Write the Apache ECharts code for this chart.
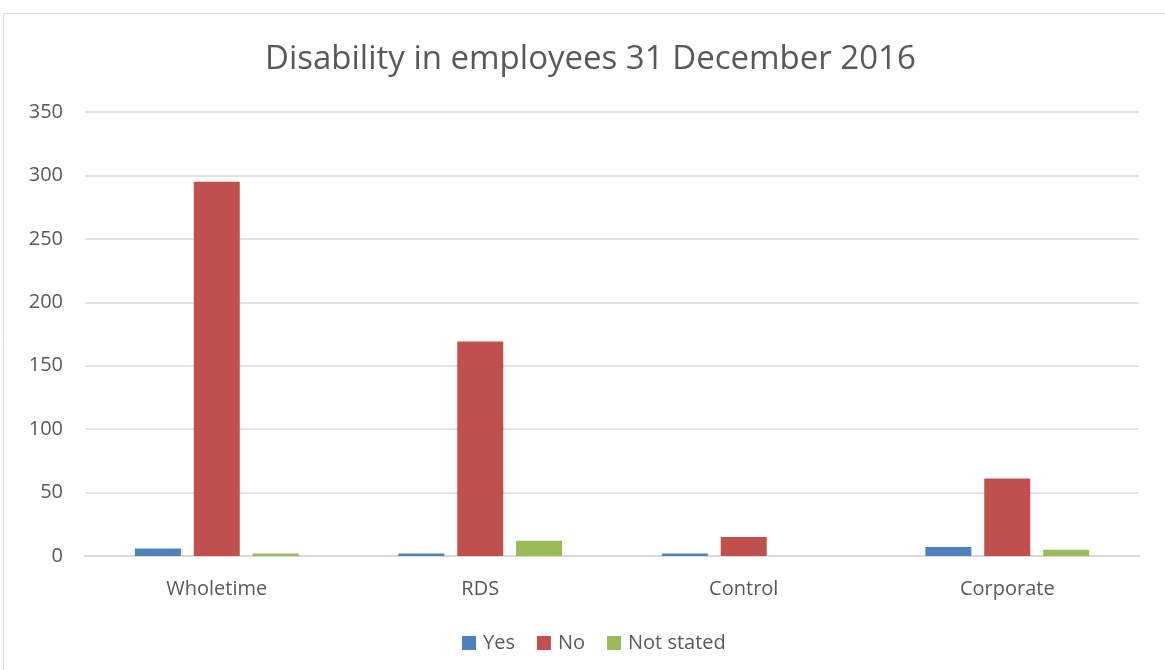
<!doctype html>
<html>
<head>
<meta charset="utf-8">
<title>Disability in employees</title>
<script src="https://cdn.jsdelivr.net/npm/echarts@6/dist/echarts.min.js"></script>
<style>
  html, body { margin: 0; padding: 0; background: #fff; }
</style>
</head>
<body>
<div id="JS_chart" style="width:1165px;height:670px;"></div>
<script type="text/javascript">
var categories = ['Wholetime', 'RDS', 'Control', 'Corporate'];
var yesData = [6, 2, 2, 7];
var noData = [295, 169, 15, 61];
var notStatedData = [2, 12, 0, 5];
var yTicks = [0, 50, 100, 150, 200, 250, 300, 350];

var textColor = '#595959';
var fontName = '"Open Sans", "Noto Sans", sans-serif';

var myChart = echarts.init(document.getElementById('JS_chart'));
var option = {
    animation: false,
    graphic: [{
        type: 'rect',
        shape: { x: 3.5, y: 13.5, width: 1180, height: 680 },
        style: { fill: 'none', stroke: '#d9d9d9', lineWidth: 1 }
    }],
    title: {
        text: 'Disability in employees 31 December 2016',
        left: 260,
        top: 38,
        textStyle: { fontFamily: fontName, fontSize: 33, fontWeight: 'normal', color: textColor }
    },
    legend: {
        bottom: 12,
        left: 457,
        icon: 'rect',
        itemWidth: 14,
        itemHeight: 14,
        itemGap: 22,
        textStyle: { fontFamily: fontName, fontSize: 20, color: textColor, padding: [0, 0, 0, 2] },
        data: ['Yes', 'No', 'Not stated']
    },
    grid: { left: 85, right: 26, top: 112, bottom: 114 },
    xAxis: {
        type: 'category',
        data: categories,
        axisTick: { show: false },
        axisLine: { lineStyle: { color: '#d9d9d9', width: 2 } },
        axisLabel: { fontFamily: fontName, fontSize: 20, color: textColor, margin: 23 }
    },
    yAxis: {
        type: 'value',
        min: yTicks[0],
        max: yTicks[yTicks.length - 1],
        interval: 50,
        axisLine: { show: false },
        axisTick: { show: false },
        axisLabel: { fontFamily: fontName, fontSize: 20, color: textColor, margin: 22 },
        splitLine: { lineStyle: { color: '#d9d9d9', width: 1.5 } }
    },
    series: [
        { name: 'Yes', type: 'bar', barWidth: 46, barGap: '28%', data: yesData, itemStyle: { color: '#4f81bd' } },
        { name: 'No', type: 'bar', barWidth: 46, barGap: '28%', data: noData, itemStyle: { color: '#c0504d' } },
        { name: 'Not stated', type: 'bar', barWidth: 46, barGap: '28%', data: notStatedData, itemStyle: { color: '#9bbb59' } }
    ]
};
myChart.setOption(option);
</script>
</body>
</html>
